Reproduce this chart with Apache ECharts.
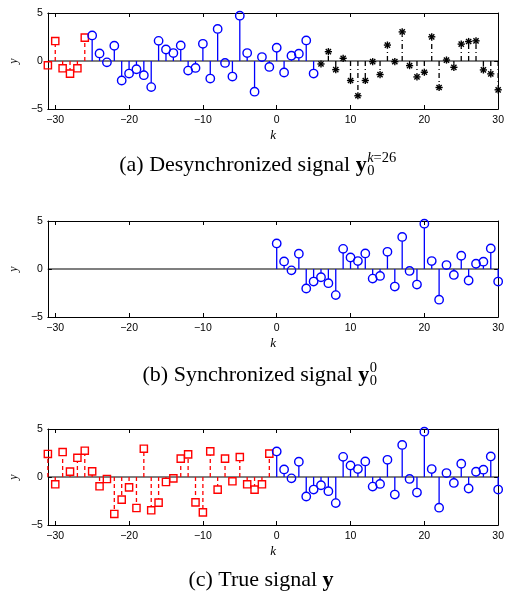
<!DOCTYPE html>
<html>
<head>
<meta charset="utf-8">
<script src="https://cdn.jsdelivr.net/npm/echarts@6/dist/echarts.min.js"></script>
<style>
html,body{margin:0;padding:0;background:#fff;}
#chart{width:507px;height:596px;}
</style>
</head>
<body>
<div id="chart"></div>
<script>
// ---- data ----
const kMin = -31, kMax = 30;
const xTickValues = [-30, -20, -10, 0, 10, 20, 30];
const yMin = -5, yMax = 5, yInterval = 5;
// true signal for k = -31 .. -1
const trueNegative = [2.4, -0.76, 2.6, 0.56, 2.0, 2.74, 0.59, -0.97, -0.21, -3.85, -2.36, -1.08, -3.23, 2.95, -3.47, -2.67,
  -0.52, -0.14, 1.91, 2.36, -2.64, -3.68, 2.67, -1.32, 1.91, -0.45, 2.08, -0.76, -1.32, -0.76, 2.43];
// true (synchronized) signal for k = 0 .. 30
const truePositive = [2.66, 0.79, -0.14, 1.59, -2.03, -1.31, -0.86, -1.48, -2.72, 2.1, 1.2, 0.83, 1.62, -1.0, -0.72, 1.79,
  -1.83, 3.34, -0.2, -1.62, 4.72, 0.83, -3.2, 0.41, -0.62, 1.38, -1.2, 0.55, 0.76, 2.14, -1.31];
// desynchronized signal: unknown future samples for k = 6 .. 30
const desyncStarStart = 6;
const desyncStars = [-0.31, 0.97, -0.9, 0.28, -2.03, -3.62, -2.03, -0.07, -1.41, 1.66, -0.07, 3.03, -0.48, -1.66, -1.17,
  2.52, -2.76, 0.1, -0.66, 1.76, 2.03, 2.1, -0.93, -1.34, -3.0];
const desyncShift = 25;      // k shift of the desynchronized signal
const desyncPastCount = 6;   // past samples shown in red in panel (a)

// ---- series data built from the arrays ----
const aRed = trueNegative.slice(-desyncPastCount).map((v, i) => [-desyncPastCount + i - desyncShift, v]);
const aBlue = truePositive.map((v, i) => [i - desyncShift, v]);
const aStar = desyncStars.map((v, i) => [desyncStarStart + i, v]);
const bBlue = truePositive.map((v, i) => [i, v]);
const cRed = trueNegative.map((v, i) => [i - trueNegative.length, v]);
const cBlue = truePositive.map((v, i) => [i, v]);

const BLUE = '#0000ff', RED = '#ff0000', BLACK = '#000000';

function stemRender(kind) {
  return function (params, api) {
    const k = api.value(0), v = api.value(1);
    const p = api.coord([k, v]);
    const b = api.coord([k, 0]);
    const children = [];
    let color, r, dash;
    if (kind === 'circle') { color = BLUE; r = 4.2; dash = null; }
    else if (kind === 'square') { color = RED; r = 3.6; dash = [4, 3]; }
    else { color = BLACK; r = 3.6; dash = [5, 3, 1, 3]; }
    const dy = b[1] - p[1];
    if (Math.abs(dy) > r) {
      const end = p[1] + Math.sign(dy) * r;
      children.push({type: 'line', shape: {x1: p[0], y1: b[1], x2: p[0], y2: end},
        style: {stroke: color, lineWidth: 1.3, lineDash: dash}});
    }
    if (kind === 'circle') {
      children.push({type: 'circle', shape: {cx: p[0], cy: p[1], r: r},
        style: {fill: 'none', stroke: color, lineWidth: 1.4}});
    } else if (kind === 'square') {
      children.push({type: 'rect', shape: {x: p[0] - r, y: p[1] - r, width: 2 * r, height: 2 * r},
        style: {fill: 'none', stroke: color, lineWidth: 1.4}});
    } else {
      const s = 3.6, d = 2.6;
      const segs = [[0, -s, 0, s], [-s, 0, s, 0], [-d, -d, d, d], [-d, d, d, -d]];
      segs.forEach(q => children.push({type: 'line',
        shape: {x1: p[0] + q[0], y1: p[1] + q[1], x2: p[0] + q[2], y2: p[1] + q[3]},
        style: {stroke: color, lineWidth: 1.4}}));
    }
    return {type: 'group', children: children};
  };
}

const grids = [
  {left: 43, right: 7, top: 13, height: 96},
  {left: 43, right: 7, top: 221, height: 96},
  {left: 43, right: 7, top: 429, height: 96}
];

const tickFont = {fontFamily: 'Liberation Sans', fontSize: 10.5, color: '#000'};
const fmt = v => String(v).replace('-', '\u2212');

const xAxes = [], yAxes = [];
grids.forEach((g, i) => {
  xAxes.push({type: 'value', gridIndex: i, min: kMin, max: kMax, position: 'bottom',
    name: 'k', nameLocation: 'middle', nameGap: 20,
    nameTextStyle: {fontFamily: 'Liberation Serif', fontStyle: 'italic', fontSize: 13, color: '#000'},
    axisLine: {show: true, onZero: false, lineStyle: {color: '#000', width: 1}},
    axisTick: {show: true, inside: true, length: 4, customValues: xTickValues, lineStyle: {color: '#000'}},
    axisLabel: Object.assign({show: true, margin: 6, customValues: xTickValues, formatter: fmt}, tickFont),
    splitLine: {show: false}});
  xAxes.push({type: 'value', gridIndex: i, min: kMin, max: kMax, position: 'top',
    axisLine: {show: true, onZero: false, lineStyle: {color: '#000', width: 1}},
    axisTick: {show: true, inside: true, length: 4, customValues: xTickValues, lineStyle: {color: '#000'}},
    axisLabel: {show: false}, splitLine: {show: false}});
  yAxes.push({type: 'value', gridIndex: i, min: yMin, max: yMax, interval: yInterval, position: 'left',
    name: 'y', nameLocation: 'middle', nameGap: 27, nameRotate: 90,
    nameTextStyle: {fontFamily: 'Liberation Serif', fontStyle: 'italic', fontSize: 12, color: '#000'},
    axisLine: {show: true, onZero: false, lineStyle: {color: '#000', width: 1}},
    axisTick: {show: true, inside: true, length: 4, lineStyle: {color: '#000'}},
    axisLabel: Object.assign({show: true, margin: 5, formatter: fmt}, tickFont),
    splitLine: {show: false}});
  yAxes.push({type: 'value', gridIndex: i, min: yMin, max: yMax, interval: yInterval, position: 'right',
    axisLine: {show: true, onZero: false, lineStyle: {color: '#000', width: 1}},
    axisTick: {show: true, inside: true, length: 4, lineStyle: {color: '#000'}},
    axisLabel: {show: false}, splitLine: {show: false}});
});

function baseline(i) {
  return {type: 'line', xAxisIndex: 2 * i, yAxisIndex: 2 * i, data: [[kMin, 0], [kMax, 0]],
    symbol: 'none', silent: true, lineStyle: {color: '#000', width: 1.2}, z: 1};
}
function stems(i, data, kind) {
  return {type: 'custom', xAxisIndex: 2 * i, yAxisIndex: 2 * i, data: data,
    renderItem: stemRender(kind), z: 2, silent: true};
}

// ---- captions (measured with canvas so they can be centred) ----
const mctx = document.createElement('canvas').getContext('2d');
function w(text, font) { mctx.font = font; return mctx.measureText(text).width; }
const CS = 22, SS = 14.5;
const fMain = CS + 'px "Liberation Serif"';
const fBold = 'bold ' + CS + 'px "Liberation Serif"';
const fScript = SS + 'px "Liberation Serif"';
const fScriptIt = 'italic ' + SS + 'px "Liberation Serif"';

function caption(label, sup, centerX, base) {
  const wl = w(label, fMain), wy = w('y', fBold), w0 = w('0', fScript);
  let wsup = 0;
  (sup || []).forEach(s => { wsup += w(s[0], s[1] ? fScriptIt : fScript); });
  const total = wl + wy + (sup ? Math.max(w0, wsup) + 1 : 0);
  let x = centerX - total / 2;
  const els = [];
  const txt = (t, xx, baseY, font, size) => ({type: 'text', x: xx, y: baseY - 0.34 * size,
    style: {text: t, font: font, fill: '#000', verticalAlign: 'middle', align: 'left'}});
  els.push(txt(label, x, base, fMain, CS)); x += wl;
  els.push(txt('y', x, base, fBold, CS)); x += wy + 0.5;
  if (sup) {
    els.push(txt('0', x, base + 3.5, fScript, SS));
    let sx = x;
    sup.forEach(s => { const f = s[1] ? fScriptIt : fScript; els.push(txt(s[0], sx, base - 9.5, f, SS)); sx += w(s[0], f); });
  }
  return els;
}

const graphics = [].concat(
  caption('(a) Desynchronized signal ', [['k', true], ['=26', false]], 258, 173),
  caption('(b) Synchronized signal ', [['0', false]], 260, 383),
  caption('(c) True signal ', null, 261, 588)
);

const chart = echarts.init(document.getElementById('chart'), null, {renderer: 'canvas'});
chart.setOption({
  animation: false,
  backgroundColor: '#fff',
  grid: grids,
  xAxis: xAxes,
  yAxis: yAxes,
  series: [
    baseline(0), stems(0, aRed, 'square'), stems(0, aBlue, 'circle'), stems(0, aStar, 'star'),
    baseline(1), stems(1, bBlue, 'circle'),
    baseline(2), stems(2, cRed, 'square'), stems(2, cBlue, 'circle')
  ],
  graphic: graphics
});
</script>
</body>
</html>
